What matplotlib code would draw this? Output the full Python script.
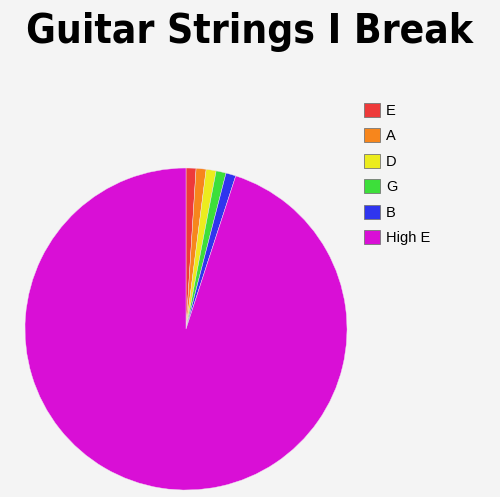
import matplotlib
matplotlib.use("Agg")
import matplotlib.pyplot as plt

strings = ["E", "A", "D", "G", "B", "High E"]
breaks = [1.0, 1.0, 1.0, 1.0, 1.0, 95.0]
colors = ["#ee3a3a", "#f7861c", "#ecec1e", "#3ddf3a", "#2f35ee", "#d90fd6"]

bg = "#f4f4f4"
fig = plt.figure(figsize=(5.0, 4.97), dpi=100, facecolor=bg)

fig.text(0.5, 0.935, "Guitar Strings I Break", ha="center", va="center",
         fontsize=29.2, fontweight="bold", fontstretch="condensed",
         family=["DejaVu Sans"], color="black")

ax = fig.add_axes([0.05, 0.014, 0.644, 0.648])
ax.set_facecolor(bg)
wedges, _ = ax.pie(breaks, colors=colors, startangle=90, counterclock=False,
                   wedgeprops=dict(edgecolor="#f0e0f0", linewidth=0.3))
ax.set_xlim(-1, 1)
ax.set_ylim(-1, 1)
ax.set_aspect("equal")
ax.axis("off")

leg = fig.legend(wedges, strings, loc="upper left", bbox_to_anchor=(0.728, 0.793),
                 frameon=False, prop={"family": "Liberation Sans", "size": 10.5},
                 handlelength=1.1, handleheight=1.1,
                 handletextpad=0.4, labelspacing=0.72, borderaxespad=0,
                 borderpad=0)
for h in leg.legend_handles:
    h.set_edgecolor("#777777")
    h.set_linewidth(0.6)

fig.savefig("out.png", dpi=100, facecolor=bg)
